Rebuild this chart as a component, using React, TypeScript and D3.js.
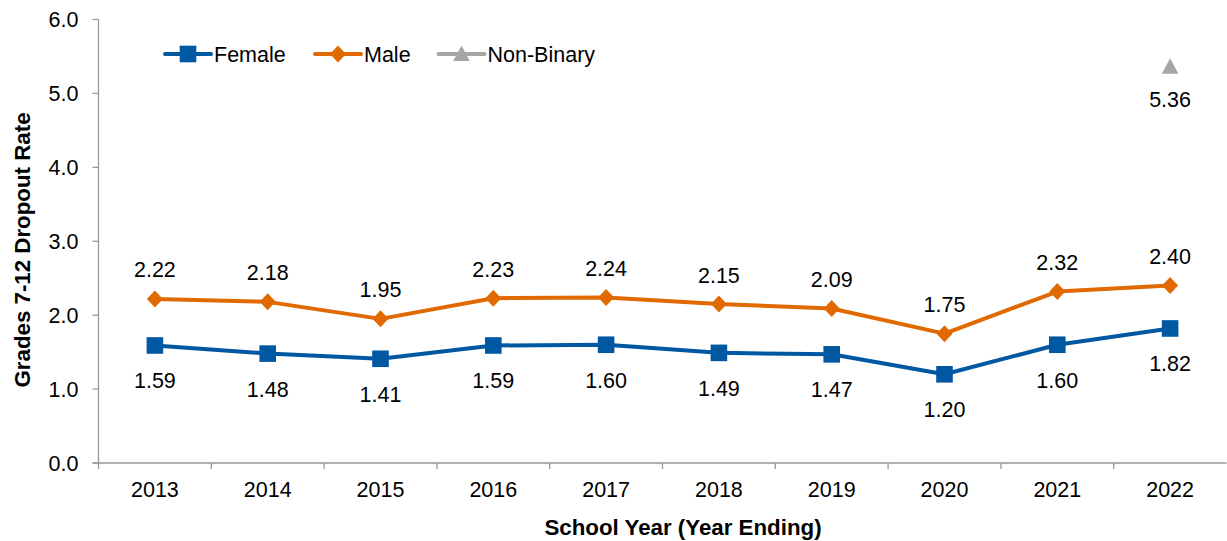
import React from "react";
import * as d3 from "d3";

const years = ["2013", "2014", "2015", "2016", "2017", "2018", "2019", "2020", "2021", "2022"];
const female = [1.59, 1.48, 1.41, 1.59, 1.60, 1.49, 1.47, 1.20, 1.60, 1.82];
const male = [2.22, 2.18, 1.95, 2.23, 2.24, 2.15, 2.09, 1.75, 2.32, 2.40];
const nonBinary: (number | null)[] = [null, null, null, null, null, null, null, null, null, 5.36];
const yTicks = [0, 1, 2, 3, 4, 5, 6];

const W = 1227, H = 541;
const left = 98.5, right = 1226.5, top = 19.5, bottom = 463;
const BLUE = "#0058A3", ORANGE = "#E06A00", GREY = "#A6A6A6";
const FONT = "Arial, 'Liberation Sans', sans-serif";
const FS = 21.5;
const TFS = 22.3;

export default function App() {
  const x = d3.scaleBand().domain(years).range([left, right]);
  const y = d3.scaleLinear().domain([0, 6]).range([bottom, top]);
  const cx = (i: number) => (x(years[i]) as number) + x.bandwidth() / 2;
  const line = d3.line<number>().x((_, i) => cx(i)).y((d) => y(d));

  const square = (px: number, py: number, k: string) => (
    <rect key={k} x={px - 8.3} y={py - 8.3} width={16.6} height={16.6} fill={BLUE} />
  );
  const diamond = (px: number, py: number, k: string) => (
    <path key={k} d={`M${px},${py - 8.5}L${px + 8},${py}L${px},${py + 8.5}L${px - 8},${py}Z`} fill={ORANGE} />
  );
  const triangle = (px: number, py: number, k: string) => (
    <path key={k} d={`M${px},${py - 8.5}L${px + 8.3},${py + 7}L${px - 8.3},${py + 7}Z`} fill={GREY} />
  );

  const legend = [
    { name: "Female", color: BLUE, x0: 165, mk: square },
    { name: "Male", color: ORANGE, x0: 315, mk: diamond },
    { name: "Non-Binary", color: GREY, x0: 438.5, mk: triangle },
  ];

  return (
    <svg width={W} height={H} style={{ position: "absolute", left: 0, top: 0, background: "#fff" }} fontFamily={FONT}>
      {/* axes */}
      <line x1={left} x2={left} y1={top} y2={bottom} stroke="#999" strokeWidth={1.3} />
      <line x1={left - 6} x2={right} y1={bottom} y2={bottom} stroke="#999" strokeWidth={1.3} />
      {yTicks.map((t) => (
        <g key={t}>
          <line x1={left - 6} x2={left} y1={y(t)} y2={y(t)} stroke="#999" strokeWidth={1.3} />
          <text x={left - 20} y={y(t)} dy="0.35em" textAnchor="end" fontSize={FS} fill="#000">
            {t.toFixed(1)}
          </text>
        </g>
      ))}
      {years.map((yr, i) => (
        <g key={yr}>
          <line x1={x(yr) as number} x2={x(yr) as number} y1={bottom} y2={bottom + 6} stroke="#999" strokeWidth={1.3} />
          <text x={cx(i)} y={497} textAnchor="middle" fontSize={FS} fill="#000">{yr}</text>
        </g>
      ))}
      <text x={683} y={535} textAnchor="middle" fontSize={TFS} fontWeight="bold">
        School Year (Year Ending)
      </text>
      <text transform={`translate(30,250) rotate(-90)`} textAnchor="middle" fontSize={TFS} fontWeight="bold">
        Grades 7-12 Dropout Rate
      </text>

      {/* lines */}
      <path d={line(male) || ""} fill="none" stroke={ORANGE} strokeWidth={4} strokeLinejoin="round" />
      <path d={line(female) || ""} fill="none" stroke={BLUE} strokeWidth={4} strokeLinejoin="round" />
      {male.map((v, i) => diamond(cx(i), y(v), "m" + i))}
      {female.map((v, i) => square(cx(i), y(v), "f" + i))}
      {nonBinary.map((v, i) => (v == null ? null : triangle(cx(i), y(v), "n" + i)))}

      {/* labels */}
      {male.map((v, i) => (
        <text key={"ml" + i} x={cx(i)} y={y(v) - 29} dy="0.35em" textAnchor="middle" fontSize={FS}>{v.toFixed(2)}</text>
      ))}
      {female.map((v, i) => (
        <text key={"fl" + i} x={cx(i)} y={y(v) + 35.5} dy="0.35em" textAnchor="middle" fontSize={FS}>{v.toFixed(2)}</text>
      ))}
      {nonBinary.map((v, i) =>
        v == null ? null : (
          <text key={"nl" + i} x={cx(i)} y={y(v) + 33} dy="0.35em" textAnchor="middle" fontSize={FS}>{v.toFixed(2)}</text>
        )
      )}

      {/* legend */}
      {legend.map((l) => (
        <g key={l.name}>
          <line x1={l.x0} x2={l.x0 + 46} y1={54} y2={54} stroke={l.color} strokeWidth={4} strokeLinecap="round" />
          {l.mk(l.x0 + 23, 54, "lg" + l.name)}
          <text x={l.x0 + 49} y={54} dy="0.35em" fontSize={FS}>{l.name}</text>
        </g>
      ))}
    </svg>
  );
}
